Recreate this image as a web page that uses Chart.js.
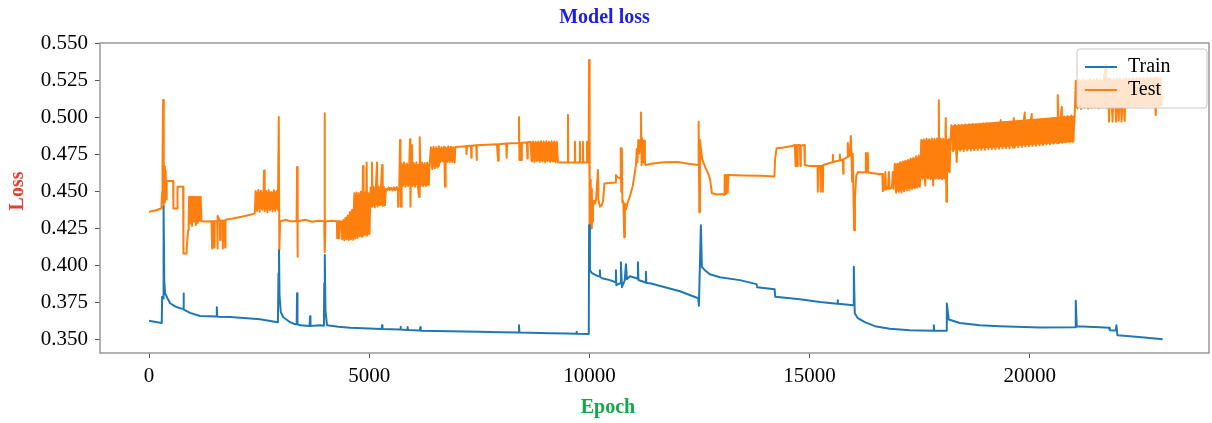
<!DOCTYPE html>
<html>
  <head>
    <title>Model loss</title>
    <script src="https://cdn.jsdelivr.net/npm/chart.js"></script>
    <style>
      body { margin: 0; background: #fff; }
    </style>
  </head>
  <body>
    <canvas id="lossChart" width="1212" height="423"></canvas>

    <script>
      // [epoch, loss] pairs
      const trainLoss = [
        [0, 0.3630], [150, 0.3622], [288, 0.3615], [296, 0.3791], [318, 0.3780], [329, 0.4399], [345, 0.3900],
        [363, 0.3816], [420, 0.3780], [477, 0.3748], [600, 0.3725], [704, 0.3714], [772, 0.3710], [780, 0.3814],
        [792, 0.3705], [931, 0.3683], [1158, 0.3662], [1530, 0.3658], [1538, 0.3721], [1548, 0.3657], [1839, 0.3655],
        [2300, 0.3645], [2520, 0.3640], [2883, 0.3622], [2925, 0.3620], [2938, 0.3951], [2950, 0.4106], [2962, 0.3800],
        [2990, 0.3690], [3042, 0.3655], [3201, 0.3620], [3314, 0.3606], [3352, 0.3606], [3360, 0.3816], [3370, 0.3606],
        [3428, 0.3599], [3645, 0.3595], [3655, 0.3660], [3665, 0.3594], [3882, 0.3599], [3970, 0.3596], [3978, 0.3883],
        [3990, 0.4073], [4005, 0.3700], [4040, 0.3600], [4300, 0.3590], [4563, 0.3582], [5000, 0.3577], [5280, 0.3574],
        [5290, 0.3599], [5300, 0.3574], [5698, 0.3570], [5710, 0.3590], [5720, 0.3570], [5860, 0.3568], [5870, 0.3588],
        [5880, 0.3567], [6150, 0.3564], [6160, 0.3586], [6170, 0.3563], [6833, 0.3559], [7500, 0.3556], [7968, 0.3552],
        [8390, 0.3550], [8400, 0.3599], [8410, 0.3550], [9103, 0.3545], [9500, 0.3543], [9700, 0.3542], [9710, 0.3556],
        [9720, 0.3542], [9985, 0.3541], [9992, 0.4275], [10011, 0.3971], [10057, 0.3951], [10193, 0.3931], [10230, 0.3930],
        [10238, 0.3971], [10246, 0.3925], [10284, 0.3917], [10465, 0.3904], [10595, 0.3890], [10602, 0.3971], [10610, 0.3870],
        [10700, 0.3883], [10715, 0.4025], [10738, 0.3856], [10800, 0.3900], [10829, 0.4012], [10850, 0.3910], [10919, 0.3930],
        [11090, 0.3915], [11101, 0.4025], [11112, 0.3905], [11275, 0.3888], [11283, 0.3960], [11292, 0.3885], [11374, 0.3883],
        [12055, 0.3829], [12470, 0.3782], [12486, 0.3731], [12531, 0.4275], [12553, 0.3994], [12621, 0.3971], [12735, 0.3944],
        [12962, 0.3924], [13416, 0.3904], [13795, 0.3877], [13810, 0.3856], [14205, 0.3843], [14220, 0.3791], [14779, 0.3775],
        [15233, 0.3757], [15630, 0.3745], [15640, 0.3768], [15650, 0.3744], [15990, 0.3735], [16004, 0.3994], [16025, 0.3680],
        [16095, 0.3647], [16254, 0.3620], [16481, 0.3593], [16822, 0.3576], [17276, 0.3566], [17810, 0.3563], [17821, 0.3599],
        [17832, 0.3563], [18100, 0.3562], [18116, 0.3746], [18161, 0.3638], [18411, 0.3615], [18865, 0.3599], [19319, 0.3593],
        [20227, 0.3584], [21030, 0.3586], [21044, 0.3764], [21067, 0.3593], [21590, 0.3586], [21800, 0.3582], [21817, 0.3566],
        [21950, 0.3564], [21968, 0.3599], [21990, 0.3532], [22270, 0.3525], [22724, 0.3514], [23018, 0.3505]
      ];

      const testLoss = [
        [0, 0.4365], [140, 0.4374], [280, 0.4388], [295, 0.4500], [305, 0.4715], [318, 0.5120], [328, 0.4700],
        [338, 0.4400], [348, 0.4672], [358, 0.4430], [368, 0.4640], [378, 0.4600], [392, 0.4450], [400, 0.4573],
        [545, 0.4573], [552, 0.4388], [636, 0.4388], [645, 0.4535], [772, 0.4535], [780, 0.4084], [840, 0.4084],
        [852, 0.4120], [863, 0.4154], [885, 0.4241], [898, 0.4300],
        [908, 0.4467], [930, 0.4285], [952, 0.4467], [974, 0.4270], [996, 0.4467], [1018, 0.4300], [1040, 0.4467],
        [1062, 0.4275], [1084, 0.4467], [1106, 0.4290], [1128, 0.4467], [1150, 0.4310], [1172, 0.4467],
        [1190, 0.4302], [1300, 0.4300], [1420, 0.4302], [1430, 0.4118], [1440, 0.4302], [1470, 0.4302], [1478, 0.4125],
        [1486, 0.4302], [1545, 0.4302], [1552, 0.4118], [1560, 0.4338], [1605, 0.4305], [1613, 0.4174], [1621, 0.4305],
        [1668, 0.4305], [1675, 0.4118], [1683, 0.4305], [1720, 0.4305], [1727, 0.4125], [1735, 0.4312],
        [1900, 0.4320], [2100, 0.4332], [2300, 0.4345], [2400, 0.4355],
        [2420, 0.4505], [2450, 0.4372], [2480, 0.4512], [2510, 0.4365], [2540, 0.4508], [2570, 0.4380], [2600, 0.4515],
        [2610, 0.4645], [2625, 0.4370], [2655, 0.4505], [2685, 0.4362], [2715, 0.4512], [2745, 0.4375], [2775, 0.4498],
        [2805, 0.4368], [2835, 0.4510], [2865, 0.4372], [2895, 0.4505], [2925, 0.4380],
        [2945, 0.5005], [2958, 0.4100], [2975, 0.4302], [3100, 0.4310], [3250, 0.4300], [3350, 0.4305], [3360, 0.4668],
        [3368, 0.4061], [3380, 0.4302], [3550, 0.4312], [3700, 0.4298], [3850, 0.4305], [3975, 0.4302], [3985, 0.5031],
        [3993, 0.4093], [4005, 0.4300], [4150, 0.4305], [4265, 0.4302], [4270, 0.4186], [4278, 0.4302], [4308, 0.4302],
        [4313, 0.4186], [4320, 0.4302], [4355, 0.4302],
        [4385, 0.4180], [4410, 0.4310], [4435, 0.4174], [4460, 0.4325], [4485, 0.4178], [4510, 0.4340], [4535, 0.4174],
        [4560, 0.4364], [4585, 0.4180], [4610, 0.4380], [4635, 0.4176], [4660, 0.4490], [4685, 0.4185], [4710, 0.4495],
        [4735, 0.4190], [4760, 0.4490], [4785, 0.4200], [4810, 0.4500], [4835, 0.4195], [4858, 0.4675], [4870, 0.4205],
        [4895, 0.4495], [4920, 0.4210], [4940, 0.4698], [4955, 0.4205], [4980, 0.4490], [5005, 0.4215],
        [5030, 0.4530], [5050, 0.4400], [5062, 0.4698], [5075, 0.4405], [5100, 0.4534], [5125, 0.4395], [5150, 0.4528],
        [5175, 0.4698], [5190, 0.4400], [5215, 0.4534], [5240, 0.4410], [5265, 0.4525], [5290, 0.4681], [5305, 0.4405],
        [5330, 0.4534], [5355, 0.4410], [5380, 0.4520], [5410, 0.4512], [5440, 0.4530], [5470, 0.4512], [5500, 0.4528],
        [5530, 0.4510], [5560, 0.4530], [5590, 0.4512], [5620, 0.4532], [5650, 0.4510], [5655, 0.4399], [5665, 0.4512],
        [5680, 0.4512], [5698, 0.4850], [5710, 0.4540], [5721, 0.4399], [5735, 0.4690], [5760, 0.4540], [5790, 0.4698],
        [5820, 0.4535], [5850, 0.4692], [5880, 0.4540], [5910, 0.4698], [5925, 0.4855], [5935, 0.4399], [5950, 0.4698],
        [5970, 0.4816], [5985, 0.4540], [6010, 0.4695], [6040, 0.4534], [6070, 0.4698], [6100, 0.4545], [6130, 0.4466],
        [6140, 0.4690], [6152, 0.4868], [6165, 0.4540], [6195, 0.4698], [6225, 0.4538], [6255, 0.4695], [6285, 0.4540],
        [6315, 0.4698], [6345, 0.4545], [6375, 0.4700],
        [6400, 0.4801], [6430, 0.4655], [6460, 0.4805], [6490, 0.4660], [6520, 0.4801], [6550, 0.4665], [6580, 0.4808],
        [6610, 0.4702], [6640, 0.4801], [6670, 0.4705], [6700, 0.4805], [6720, 0.4534], [6735, 0.4800], [6765, 0.4702],
        [6795, 0.4808], [6825, 0.4700], [6855, 0.4805], [6885, 0.4702],
        [6905, 0.4801], [6940, 0.4698], [6955, 0.4803], [7200, 0.4808], [7210, 0.4755], [7220, 0.4810], [7310, 0.4812],
        [7318, 0.4730], [7326, 0.4812], [7430, 0.4815], [7438, 0.4715], [7446, 0.4815], [7900, 0.4822], [7925, 0.4710],
        [7940, 0.4822], [8110, 0.4826], [8120, 0.4730], [8130, 0.4826], [8390, 0.4830], [8400, 0.5005], [8410, 0.4715],
        [8420, 0.4832], [8450, 0.4715], [8465, 0.4832], [8580, 0.4834], [8590, 0.4725], [8600, 0.4835],
        [8660, 0.4839], [8690, 0.4705], [8720, 0.4840], [8750, 0.4702], [8780, 0.4838], [8810, 0.4708], [8840, 0.4840],
        [8870, 0.4702], [8900, 0.4842], [8930, 0.4706], [8960, 0.4840], [8990, 0.4702], [9020, 0.4842], [9050, 0.4708],
        [9080, 0.4838], [9110, 0.4702], [9140, 0.4842], [9170, 0.4705], [9200, 0.4840], [9230, 0.4700], [9260, 0.4838],
        [9285, 0.4698],
        [9400, 0.4698], [9505, 0.4698], [9512, 0.5019], [9520, 0.4698], [9665, 0.4698], [9671, 0.4839], [9678, 0.4698],
        [9778, 0.4698], [9784, 0.4839], [9790, 0.4698], [9846, 0.4698], [9852, 0.4839], [9858, 0.4698], [9938, 0.4698],
        [9944, 0.4839], [9950, 0.4698], [9982, 0.4698], [9992, 0.5391],
        [10005, 0.4241], [10015, 0.4580], [10025, 0.4260], [10035, 0.4560], [10045, 0.4254], [10055, 0.4520], [10065, 0.4300],
        [10080, 0.4400], [10100, 0.4440], [10125, 0.4422], [10150, 0.4444], [10193, 0.4647], [10205, 0.4444], [10240, 0.4399],
        [10280, 0.4410], [10310, 0.4440], [10340, 0.4557], [10450, 0.4560], [10590, 0.4563], [10602, 0.4613], [10640, 0.4600],
        [10700, 0.4590], [10712, 0.4794], [10722, 0.4500], [10735, 0.4794], [10748, 0.4430], [10770, 0.4436], [10790, 0.4194],
        [10805, 0.4420], [10830, 0.4380], [10860, 0.4420], [10919, 0.4470], [10987, 0.4545], [11056, 0.4680], [11075, 0.4790],
        [11090, 0.4700], [11110, 0.4850], [11130, 0.4760], [11150, 0.4850], [11169, 0.5035], [11185, 0.4680], [11200, 0.4860],
        [11220, 0.4700], [11240, 0.4845], [11260, 0.4690], [11283, 0.4681],
        [11400, 0.4690], [11700, 0.4700], [12000, 0.4702], [12250, 0.4690], [12470, 0.4681], [12480, 0.4974], [12495, 0.4363],
        [12510, 0.4850], [12560, 0.4720], [12640, 0.4660], [12700, 0.4620], [12740, 0.4585], [12781, 0.4490], [12900, 0.4482],
        [13000, 0.4485], [13060, 0.4480], [13070, 0.4613], [13080, 0.4485], [13100, 0.4613], [13110, 0.4490], [13130, 0.4613],
        [13140, 0.4495], [13155, 0.4613], [13500, 0.4611], [13900, 0.4608], [14200, 0.4603], [14215, 0.4720], [14250, 0.4794],
        [14400, 0.4800], [14600, 0.4810], [14665, 0.4816], [14680, 0.4675], [14690, 0.4816], [14720, 0.4675], [14730, 0.4816],
        [14780, 0.4816], [14790, 0.4675], [14800, 0.4812], [14880, 0.4816], [14892, 0.4681], [15000, 0.4675], [15180, 0.4675],
        [15187, 0.4501], [15195, 0.4675], [15240, 0.4675], [15248, 0.4501], [15256, 0.4675], [15295, 0.4675], [15302, 0.4501],
        [15310, 0.4681], [15400, 0.4690], [15520, 0.4700], [15528, 0.4750], [15536, 0.4702], [15680, 0.4712], [15687, 0.4752],
        [15694, 0.4712], [15755, 0.4718], [15762, 0.4622], [15770, 0.4720], [15860, 0.4735], [15868, 0.4829], [15876, 0.4738],
        [15910, 0.4745], [15936, 0.4877], [15950, 0.4750], [15965, 0.4568], [15980, 0.4755], [16010, 0.4241], [16030, 0.4460],
        [16060, 0.4610], [16100, 0.4634], [16200, 0.4630], [16270, 0.4634], [16277, 0.4762], [16285, 0.4630], [16315, 0.4630],
        [16322, 0.4762], [16330, 0.4630], [16450, 0.4625], [16570, 0.4620], [16650, 0.4620], [16665, 0.4505], [16700, 0.4520],
        [16720, 0.4634], [16735, 0.4515], [16780, 0.4525], [16800, 0.4634], [16815, 0.4520], [16870, 0.4530], [16890, 0.4634],
        [16905, 0.4520],
        [16935, 0.4690], [16965, 0.4495], [16995, 0.4690], [17025, 0.4500], [17055, 0.4700], [17085, 0.4495], [17115, 0.4705],
        [17145, 0.4505], [17175, 0.4710], [17205, 0.4510], [17235, 0.4715], [17265, 0.4510], [17295, 0.4725], [17325, 0.4520],
        [17355, 0.4730], [17385, 0.4525], [17415, 0.4740], [17445, 0.4530], [17475, 0.4745], [17505, 0.4535],
        [17535, 0.4850], [17565, 0.4588], [17595, 0.4855], [17625, 0.4543], [17655, 0.4858], [17685, 0.4590], [17715, 0.4855],
        [17745, 0.4585], [17775, 0.4860], [17805, 0.4543], [17835, 0.4858], [17865, 0.4590], [17895, 0.4860], [17925, 0.4588],
        [17934, 0.5118], [17945, 0.4590], [17975, 0.4861], [18005, 0.4585], [18035, 0.4858], [18065, 0.4590], [18093, 0.4998],
        [18105, 0.4434], [18120, 0.4850], [18140, 0.4640], [18160, 0.4855], [18180, 0.4633], [18200, 0.4860],
        [18220, 0.4950], [18260, 0.4775], [18300, 0.4952], [18340, 0.4702], [18380, 0.4953], [18420, 0.4778], [18460, 0.4951],
        [18500, 0.4776], [18540, 0.4955], [18580, 0.4780], [18620, 0.4956], [18660, 0.4779], [18700, 0.4958], [18740, 0.4782],
        [18780, 0.4957], [18820, 0.4783], [18860, 0.4960], [18900, 0.4785], [18940, 0.4961], [18980, 0.4784], [19020, 0.4963],
        [19060, 0.4788], [19100, 0.4962], [19140, 0.4790], [19180, 0.4965], [19220, 0.4789], [19260, 0.4966], [19300, 0.4792],
        [19340, 0.4985], [19380, 0.4794], [19420, 0.4968], [19460, 0.4796], [19500, 0.4970], [19540, 0.4795], [19580, 0.4971],
        [19620, 0.4799], [19637, 0.4998], [19660, 0.4800], [19700, 0.4973], [19740, 0.4802], [19780, 0.4975], [19820, 0.4804],
        [19860, 0.4976], [19886, 0.5035], [19900, 0.4806], [19940, 0.4978], [19980, 0.4808], [20020, 0.4980], [20045, 0.5025],
        [20060, 0.4810], [20100, 0.4982], [20140, 0.4812], [20180, 0.4985], [20220, 0.4815], [20260, 0.4987], [20300, 0.4817],
        [20340, 0.4990], [20380, 0.4820], [20420, 0.4992], [20460, 0.4822], [20500, 0.4995], [20540, 0.4826], [20580, 0.4998],
        [20620, 0.4828], [20636, 0.5154], [20660, 0.4830], [20700, 0.5005], [20727, 0.5075], [20740, 0.4832], [20780, 0.5008],
        [20820, 0.4835], [20860, 0.5012], [20900, 0.4836], [20940, 0.5015], [20980, 0.4838], [21020, 0.5019],
        [21045, 0.5250], [21085, 0.5065], [21125, 0.5255], [21165, 0.5060], [21205, 0.5258], [21245, 0.5068], [21285, 0.5255],
        [21325, 0.5062], [21365, 0.5260], [21405, 0.5066], [21445, 0.5258], [21485, 0.5070], [21525, 0.5262], [21565, 0.5065],
        [21605, 0.5260], [21645, 0.5072], [21685, 0.5262], [21726, 0.5360], [21745, 0.5068], [21785, 0.5262], [21800, 0.4974],
        [21825, 0.5265], [21865, 0.5070], [21880, 0.4974], [21905, 0.5262], [21945, 0.5068], [21960, 0.4974], [21985, 0.5265],
        [22020, 0.4980], [22045, 0.5265], [22085, 0.4974], [22125, 0.5262], [22155, 0.4978], [22185, 0.5268], [22225, 0.5072],
        [22265, 0.5265], [22305, 0.5075], [22345, 0.5270], [22385, 0.5072], [22425, 0.5268], [22465, 0.5076], [22505, 0.5270],
        [22545, 0.5074], [22585, 0.5272], [22625, 0.5078], [22665, 0.5270], [22705, 0.5076], [22745, 0.5272], [22785, 0.5080],
        [22825, 0.5270], [22860, 0.5019], [22885, 0.5272], [22925, 0.5078], [22960, 0.5270], [23000, 0.5080]
      ];

      // solid core of the dense oscillation stretches of the test curve: [epoch, low, high], null = break
      const testBand = [
        [908, 0.4295, 0.4460], [1172, 0.4300, 0.4460], null,
        [2420, 0.4385, 0.4500], [2925, 0.4385, 0.4500], null,
        [4380, 0.4185, 0.4300], [4640, 0.4185, 0.4370], [4655, 0.4195, 0.4480], [5005, 0.4215, 0.4480], null,
        [5025, 0.4410, 0.4520], [5380, 0.4410, 0.4520], null,
        [5710, 0.4545, 0.4685], [6375, 0.4545, 0.4690], null,
        [6400, 0.4665, 0.4795], [6600, 0.4670, 0.4798], [6610, 0.4705, 0.4798], [6885, 0.4705, 0.4800], null,
        [8660, 0.4710, 0.4835], [9285, 0.4705, 0.4835], null,
        [16935, 0.4500, 0.4685], [17505, 0.4535, 0.4740], null,
        [17535, 0.4590, 0.4850], [18065, 0.4590, 0.4855], null,
        [18220, 0.4780, 0.4948], [21020, 0.4836, 0.5015], null,
        [21045, 0.5068, 0.5250], [23000, 0.5078, 0.5268]
      ];

      const xTicks = [0, 5000, 10000, 15000, 20000];
      const yTicks = [0.350, 0.375, 0.400, 0.425, 0.450, 0.475, 0.500, 0.525, 0.550];

      const serif = '"Liberation Serif", "Times New Roman", serif';
      const titleColor = '#1e1ee0';
      const epochColor = '#12a84a';
      const lossColor = '#e8402c';
      const trainColor = '#1f77b4';
      const testColor = '#ff7f0e';

      // frame, axis titles and the legend box
      const decorations = {
        id: 'decorations',
        afterDraw(chart) {
          const { ctx, chartArea: a } = chart;
          ctx.save();
          ctx.strokeStyle = '#999';
          ctx.lineWidth = 1.5;
          ctx.strokeRect(a.left, a.top, a.right - a.left, a.bottom - a.top);

          ctx.font = 'bold 20px ' + serif;
          ctx.textAlign = 'center';
          ctx.textBaseline = 'middle';
          ctx.fillStyle = epochColor;
          ctx.fillText('Epoch', 608, 408);
          ctx.save();
          ctx.translate(18, 191);
          ctx.rotate(-Math.PI / 2);
          ctx.fillStyle = lossColor;
          ctx.fillText('Loss', 0, 0);
          ctx.restore();

          const bx = a.right - 132, by = a.top + 6, bw = 130, bh = 59;
          ctx.beginPath();
          ctx.roundRect(bx, by, bw, bh, 3);
          ctx.fillStyle = 'rgba(255,255,255,0.8)';
          ctx.fill();
          ctx.strokeStyle = '#c8c8c8';
          ctx.lineWidth = 1;
          ctx.stroke();

          ctx.font = '20px ' + serif;
          ctx.textAlign = 'left';
          chart.data.datasets.filter(ds => ds.label).forEach((ds, i) => {
            const y = by + 18 + i * 23;
            ctx.strokeStyle = ds.borderColor;
            ctx.lineWidth = 2;
            ctx.beginPath();
            ctx.moveTo(bx + 8, y);
            ctx.lineTo(bx + 40, y);
            ctx.stroke();
            ctx.fillStyle = '#000';
            ctx.fillText(ds.label, bx + 51, y);
          });
          ctx.restore();
        }
      };

      const toPoints = arr => arr.map(([x, y]) => ({ x, y }));
      const bandEdge = k => testBand.map((r, i) =>
        r ? { x: r[0], y: r[k] } : { x: testBand[i - 1][0] + 1, y: null });

      const ctx = document.getElementById('lossChart').getContext('2d');
      const lossChart = new Chart(ctx, {
        type: 'line',
        data: {
          datasets: [{
            label: 'Train',
            data: toPoints(trainLoss),
            borderColor: trainColor,
            borderWidth: 2,
            pointRadius: 0,
            fill: false
          }, {
            label: 'Test',
            data: toPoints(testLoss),
            borderColor: testColor,
            borderWidth: 2,
            pointRadius: 0,
            fill: false
          }, {
            data: bandEdge(1),
            borderWidth: 0,
            pointRadius: 0,
            spanGaps: false,
            fill: false
          }, {
            data: bandEdge(2),
            borderWidth: 0,
            pointRadius: 0,
            spanGaps: false,
            backgroundColor: testColor,
            fill: '-1'
          }]
        },
        options: {
          responsive: false,
          animation: false,
          devicePixelRatio: 1,
          elements: { line: { tension: 0, borderJoinStyle: 'round' } },
          layout: { padding: { left: 0, right: 3, top: 0, bottom: 0 } },
          plugins: {
            legend: { display: false },
            tooltip: { enabled: false },
            title: {
              display: true,
              text: 'Model loss',
              color: titleColor,
              font: { family: serif, size: 20, weight: 'bold' },
              padding: { top: 6, bottom: 13 }
            }
          },
          scales: {
            x: {
              type: 'linear',
              min: -1115,
              max: 24070,
              afterFit: s => { s.height = 70; },
              afterBuildTicks: s => { s.ticks = xTicks.map(v => ({ value: v })); },
              ticks: {
                color: '#000',
                font: { family: serif, size: 21 },
                padding: 6,
                maxRotation: 0,
                callback: v => String(v)
              },
              grid: { drawOnChartArea: false, drawTicks: true, tickLength: 5, color: '#555' },
              border: { display: false }
            },
            y: {
              min: 0.3412,
              max: 0.5505,
              afterFit: s => { s.width = 100; },
              afterBuildTicks: s => { s.ticks = yTicks.map(v => ({ value: v })); },
              ticks: {
                color: '#000',
                font: { family: serif, size: 21 },
                padding: 7,
                callback: v => v.toFixed(3)
              },
              grid: { drawOnChartArea: false, drawTicks: true, tickLength: 5, color: '#555' },
              border: { display: false }
            }
          }
        },
        plugins: [decorations]
      });
    </script>
  </body>
</html>
